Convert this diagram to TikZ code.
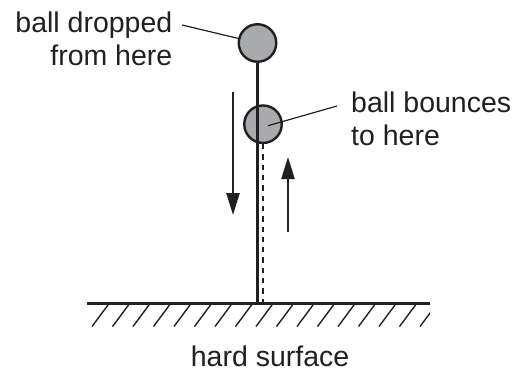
\documentclass[tikz,border=0pt]{standalone}
\usepackage{fontspec}
\setmainfont{Liberation Sans}
\usetikzlibrary{
  arrows.meta,
  positioning,
  calc,
}
\definecolor{ballgrey}{RGB}{168,170,173}
\definecolor{inkcol}{RGB}{35,31,32}
\tikzset{
  ballnode/.style={
    circle, draw=inkcol, fill=ballgrey, line width=2.4pt,
    minimum size=37.5pt, inner sep=0pt
  },
  labeltext/.style={
    inner sep=0pt, text=inkcol,
    font=\fontsize{28.5}{33.4}\selectfont
  },
  pathline/.style={inkcol, line width=2.4pt},
  bouncepath/.style={inkcol, line width=2.3pt, dash pattern=on 5.3pt off 5pt},
  leaderline/.style={inkcol, line width=1.2pt},
  motionarrow/.style={inkcol, line width=2.4pt, -{Triangle[length=22pt,width=13pt]}},
  groundline/.style={inkcol, line width=2.2pt},
  hatchline/.style={inkcol, line width=1.4pt},
}

\begin{document}
\begin{tikzpicture}[x=1pt, y=-1pt]

  \useasboundingbox (0,0) rectangle (520,373);

  % ── Balls ──
  \node[ballnode] (ballTop)    at (257.5, 43)  {};
  \node[ballnode] (ballBounce) at (263,  124.2) {};

  % ── Surface ──
  \coordinate (surfL) at (87,  303.5);
  \coordinate (surfR) at (430, 303.5);

  % ── Paths of the ball ──
  \draw[bouncepath] (ballBounce.south) -- (ballBounce |- surfL);
  \draw[pathline]   (ballTop.south)    -- (ballTop |- surfL);

  % ── Direction arrows ──
  \coordinate (fallStart) at (233, 92);
  \coordinate (fallEnd)   at (233, 215);
  \coordinate (riseStart) at (288, 232);
  \coordinate (riseEnd)   at (288, 157);
  \draw[motionarrow] (fallStart) -- (fallEnd);
  \draw[motionarrow] (riseStart) -- (riseEnd);

  % ── Hard surface with hatching ──
  \begin{scope}
    \clip (87, 304) rectangle (430, 328);
    \foreach \i in {0,...,17}
      \draw[hatchline] (92+20.5*\i, 326.5) -- (108+20.5*\i, 305);
  \end{scope}
  \draw[groundline] (surfL) -- (surfR);

  % ── Labels ──
  \node[labeltext, align=right, anchor=north east] (lblDrop) at (172.5, 11.7)
    {ball dropped\\from here};
  \node[labeltext, align=left, anchor=north west] (lblBounce) at (351, 91.7)
    {ball bounces\\to here};
  \node[labeltext, anchor=base west] (lblSurface) at (190.7, 366.7) {hard surface};

  % ── Leader lines ──
  \coordinate (dropTip)   at (182, 25);
  \coordinate (bounceIn)  at (268, 125.7);
  \coordinate (bounceTip) at (337, 106);
  \draw[leaderline] (dropTip)  -- (ballTop);
  \draw[leaderline] (bounceIn) -- (bounceTip);

\end{tikzpicture}
\end{document}
